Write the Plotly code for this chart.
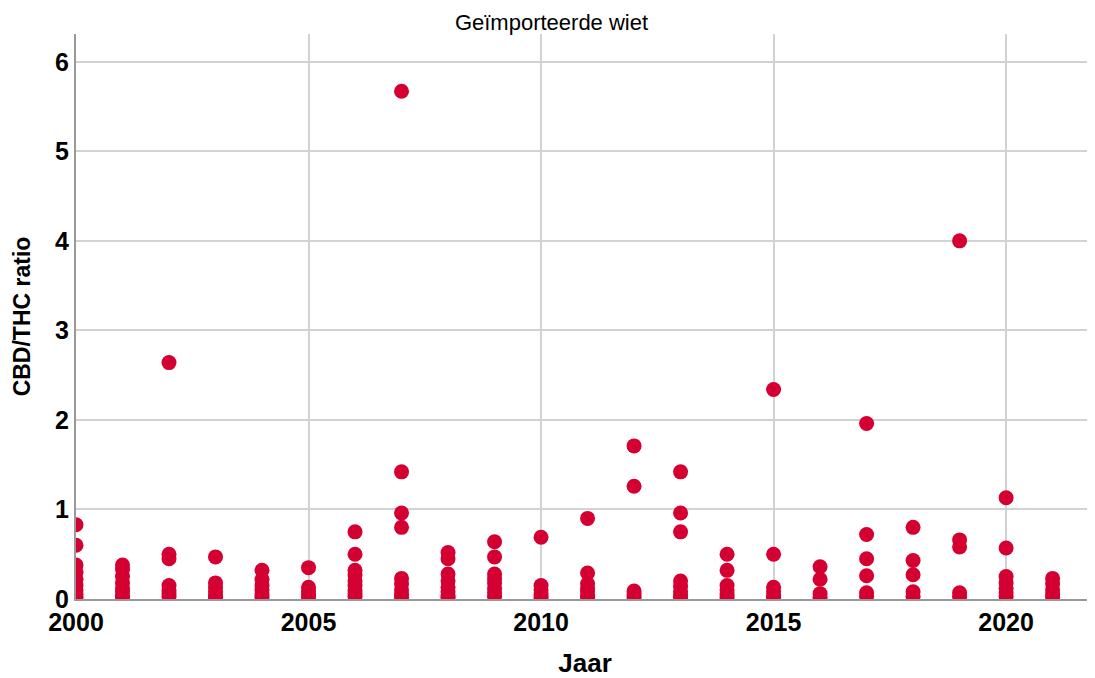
import plotly.graph_objects as go

# CBD/THC ratio per year
y2000 = [0.83, 0.60, 0.38, 0.30, 0.22, 0.15, 0.10, 0.05, 0.02]
y2001 = [0.38, 0.33, 0.25, 0.18, 0.12, 0.08, 0.04, 0.02]
y2002 = [2.64, 0.50, 0.45, 0.15, 0.10, 0.06, 0.03]
y2003 = [0.47, 0.18, 0.13, 0.08, 0.04, 0.02]
y2004 = [0.32, 0.22, 0.15, 0.10, 0.05, 0.02]
y2005 = [0.35, 0.13, 0.09, 0.05, 0.02]
y2006 = [0.75, 0.50, 0.32, 0.27, 0.20, 0.15, 0.10, 0.06, 0.03]
y2007 = [5.67, 1.42, 0.96, 0.80, 0.23, 0.17, 0.10, 0.05, 0.02]
y2008 = [0.52, 0.45, 0.28, 0.20, 0.13, 0.08, 0.04, 0.02]
y2009 = [0.64, 0.47, 0.28, 0.23, 0.18, 0.12, 0.07, 0.03]
y2010 = [0.69, 0.15, 0.10, 0.05, 0.02]
y2011 = [0.90, 0.29, 0.17, 0.12, 0.08, 0.04, 0.02]
y2012 = [1.71, 1.26, 0.09, 0.05, 0.02]
y2013 = [1.42, 0.96, 0.75, 0.20, 0.14, 0.08, 0.04, 0.02]
y2014 = [0.50, 0.32, 0.15, 0.10, 0.05, 0.02]
y2015 = [2.34, 0.50, 0.13, 0.08, 0.04, 0.02]
y2016 = [0.36, 0.22, 0.06, 0.02]
y2017 = [1.96, 0.72, 0.45, 0.26, 0.07, 0.03]
y2018 = [0.80, 0.43, 0.27, 0.08, 0.03]
y2019 = [4.00, 0.66, 0.58, 0.07, 0.03]
y2020 = [1.13, 0.57, 0.25, 0.18, 0.12, 0.07, 0.03]
y2021 = [0.23, 0.17, 0.10, 0.05, 0.02]

years = list(range(2000, 2022))
ratios = [y2000, y2001, y2002, y2003, y2004, y2005, y2006, y2007, y2008, y2009,
          y2010, y2011, y2012, y2013, y2014, y2015, y2016, y2017, y2018, y2019,
          y2020, y2021]

x_ticks = [2000, 2005, 2010, 2015, 2020]
y_ticks = [0, 1, 2, 3, 4, 5, 6]

xs, ys = [], []
for yr, vals in zip(years, ratios):
    for v in vals:
        xs.append(yr)
        ys.append(v)

font_family = "Liberation Sans, Arial, sans-serif"

fig = go.Figure()
fig.add_trace(go.Scatter(
    x=xs, y=ys, mode="markers",
    marker=dict(size=15, color="#d50032", line=dict(width=0)),
    cliponaxis=True,
    showlegend=False,
))

# page body has an 8px default margin, so the figure is sized/offset for it
W, H = 1087, 670
fig.update_layout(
    width=W, height=H,
    margin=dict(l=68, r=1, t=26, b=79),
    paper_bgcolor="white",
    plot_bgcolor="white",
    font=dict(family=font_family, color="black"),
    title=dict(text="Geïmporteerde wiet", x=0.5, xref="container", xanchor="center",
               y=1 - 14 / H, yref="container", yanchor="middle",
               font=dict(size=22, family=font_family, color="black")),
)

fig.update_xaxes(
    range=[2000, 2021.89],
    tickvals=x_ticks,
    ticktext=[str(t) for t in x_ticks],
    tickfont=dict(size=25, family=font_family, color="black", weight="bold"),
    showgrid=True, gridcolor="#d2d2d2", gridwidth=1.5,
    showline=True, linecolor="#999999", linewidth=2,
    zeroline=False, ticks="",
    title=dict(text="Jaar", font=dict(size=26, family=font_family, color="black", weight="bold"),
               standoff=29),
    automargin=False,
)

fig.update_yaxes(
    range=[0, 6.31],
    tickvals=y_ticks,
    ticktext=[str(t) for t in y_ticks],
    tickfont=dict(size=25, family=font_family, color="black", weight="bold"),
    showgrid=True, gridcolor="#d2d2d2", gridwidth=1.5,
    showline=True, linecolor="#999999", linewidth=2,
    zeroline=False, ticks="",
    title=dict(text="CBD/THC ratio", font=dict(size=23, family=font_family, color="black", weight="bold"),
               standoff=18),
    automargin=False,
)

fig.write_html("out.html")
